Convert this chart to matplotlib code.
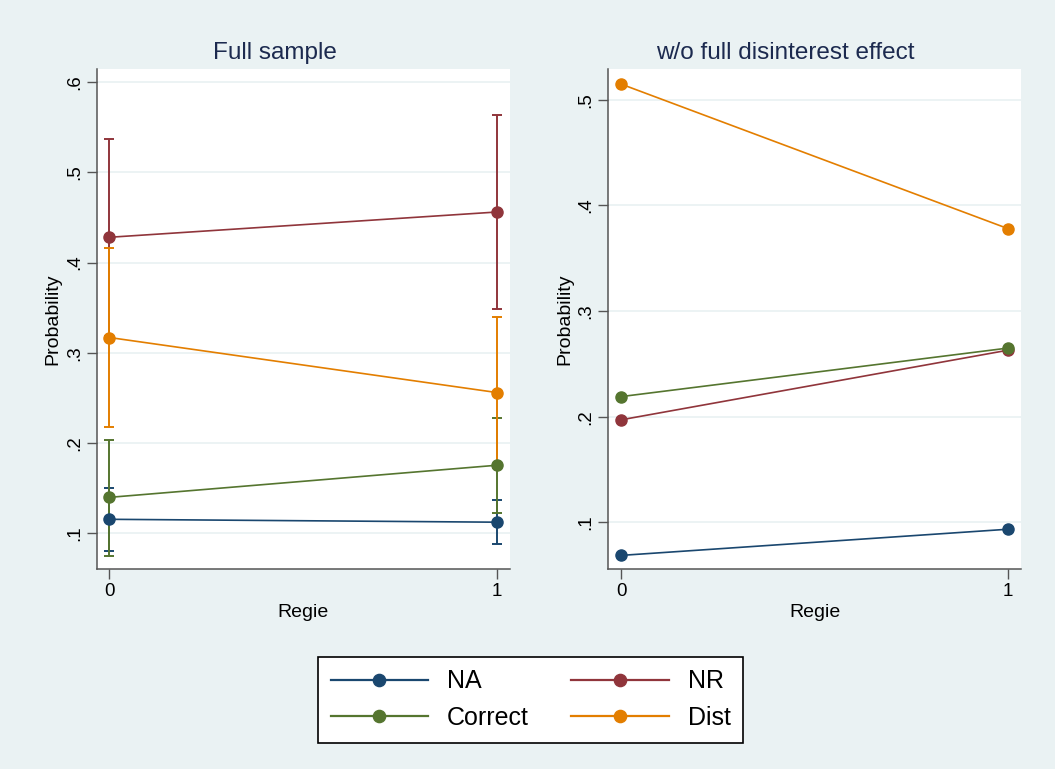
import matplotlib
matplotlib.use("Agg")
import matplotlib.pyplot as plt

plt.rcParams['font.family'] = ['Liberation Sans', 'DejaVu Sans']

# data
regie = [0, 1]
series = ['NA', 'NR', 'Correct', 'Dist']
colors = {'NA': '#1a476f', 'NR': '#90353b', 'Correct': '#55752f', 'Dist': '#e37e00'}

# full sample: point estimates and confidence bounds
full_est = {'NA': [0.1157, 0.1125], 'NR': [0.428, 0.456],
            'Correct': [0.140, 0.1756], 'Dist': [0.317, 0.256]}
full_lo = {'NA': [0.081, 0.088], 'NR': [0.319, 0.349],
           'Correct': [0.0755, 0.123], 'Dist': [0.218, 0.172]}
full_hi = {'NA': [0.150, 0.1376], 'NR': [0.537, 0.563],
           'Correct': [0.204, 0.228], 'Dist': [0.416, 0.340]}

# without full disinterest effect
wo_est = {'NA': [0.0686, 0.0934], 'NR': [0.197, 0.263],
          'Correct': [0.219, 0.265], 'Dist': [0.515, 0.378]}

left_ticks = [0.1, 0.2, 0.3, 0.4, 0.5, 0.6]
right_ticks = [0.1, 0.2, 0.3, 0.4, 0.5]

BG = '#eaf2f3'
TITLE_C = '#1c2a4f'
W, H = 1055, 769

fig = plt.figure(figsize=(W / 100, H / 100), dpi=100, facecolor=BG)


def fx(px):
    return px / W


def fy(py):
    return 1 - py / H


ax1 = fig.add_axes([fx(96.7), fy(568.7), fx(510 - 96.7), (568.7 - 69.3) / H])
ax2 = fig.add_axes([fx(608.3), fy(568.7), fx(1021 - 608.3), (568.7 - 69.3) / H])


def style(ax, ticks, ylim):
    ax.set_facecolor('white')
    ax.set_xlim(-0.033, 1.033)
    ax.set_ylim(*ylim)
    ax.set_yticks(ticks)
    ax.set_yticklabels(['.' + f'{t:.1f}'.split('.')[1] for t in ticks],
                       rotation=90, va='center', fontsize=13.5)
    ax.set_xticks([0, 1])
    ax.set_xticklabels(['0', '1'], fontsize=13.5)
    for s in ['top', 'right']:
        ax.spines[s].set_visible(False)
    for s in ['left', 'bottom']:
        ax.spines[s].set_color('#555555')
        ax.spines[s].set_linewidth(1.1)
    ax.tick_params(axis='both', length=7, width=1, color='#555555', pad=3)
    ax.grid(axis='y', color=BG, linewidth=1.3)
    ax.set_axisbelow(True)
    ax.set_ylabel('Probability', fontsize=14, labelpad=3)
    ax.set_xlabel('Regie', fontsize=14, labelpad=3)


style(ax1, left_ticks, (0.061, 0.614))
style(ax2, right_ticks, (0.056, 0.529))

# confidence intervals first, then the connected estimates
for name in series:
    est = full_est[name]
    lo = [e - l for e, l in zip(est, full_lo[name])]
    hi = [h - e for e, h in zip(est, full_hi[name])]
    ax1.errorbar(regie, est, yerr=[lo, hi], fmt='none', ecolor=colors[name],
                 elinewidth=1.4, capsize=3.5, capthick=1.4, zorder=2)
for name in series:
    ax1.plot(regie, full_est[name], '-o', color=colors[name], lw=1.2,
             markersize=8, zorder=3, label=name)
    ax2.plot(regie, wo_est[name], '-o', color=colors[name], lw=1.2,
             markersize=8, zorder=3)

fig.text(fx(274.5), fy(53), 'Full sample', ha='center', va='center',
         fontsize=17.5, color=TITLE_C)
fig.text(fx(785.5), fy(53), 'w/o full disinterest effect', ha='center',
         va='center', fontsize=17.5, color=TITLE_C)

handles, labels = ax1.get_legend_handles_labels()
order = [0, 2, 1, 3]  # column-major fill -> NA, NR on first row
leg = fig.legend([handles[i] for i in order], [labels[i] for i in order],
                 ncol=2, loc='upper center',
                 bbox_to_anchor=(fx(530.5), fy(657)),
                 fontsize=18, handlelength=3.9, markerscale=1.1,
                 handletextpad=0.75, labelspacing=0.5, borderpad=0.5,
                 columnspacing=1.7, frameon=True, fancybox=False,
                 edgecolor='black', framealpha=1, borderaxespad=0)
leg.get_frame().set_linewidth(1.2)
for line in leg.get_lines():
    line.set_linewidth(1.6)

fig.savefig('out.png', dpi=100, facecolor=BG)
